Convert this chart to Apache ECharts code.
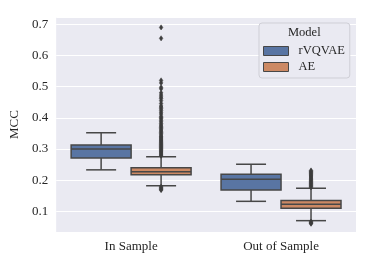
<!DOCTYPE html>
<html><head><meta charset="utf-8">
<script src="https://cdn.jsdelivr.net/npm/echarts@6/dist/echarts.min.js"></script>
<style>html,body{margin:0;padding:0;background:#fff}#c{width:374px;height:267px}</style>
</head><body><div id="c"></div>
<script>
const categories = ['In Sample', 'Out of Sample'];
const seriesNames = ['rVQVAE', 'AE'];
// [min whisker, Q1, median, Q3, max whisker] per category
const rvqvaeBoxes = [[0.233, 0.271, 0.300, 0.313, 0.352], [0.132, 0.168, 0.203, 0.219, 0.251]];
const aeBoxes = [[0.182, 0.217, 0.227, 0.240, 0.275], [0.070, 0.110, 0.123, 0.135, 0.174]];
const aeOutliersIn = [0.278,0.281,0.284,0.287,0.290,0.293,0.296,0.299,0.302,0.305,0.308,0.311,0.314,0.317,0.320,0.323,0.326,0.329,0.332,0.335,0.338,0.341,0.345,0.349,0.353,0.357,0.361,0.365,0.369,0.373,0.377,0.382,0.387,0.392,0.397,0.401,0.405,0.412,0.418,0.424,0.429,0.434,0.438,0.446,0.455,0.462,0.467,0.473,0.480,0.493,0.498,0.512,0.520,0.655,0.690,0.179,0.176,0.173,0.170,0.168];
const aeOutliersOut = [0.177,0.180,0.183,0.186,0.189,0.192,0.195,0.198,0.201,0.204,0.207,0.210,0.213,0.216,0.219,0.222,0.225,0.228,0.231,0.067,0.064,0.062,0.060];
const rvqvaeOutliers = [[], []];
const yTickLabels = ['0.1','0.2','0.3','0.4','0.5','0.6','0.7'];

const colors = ['#5975a3', '#cc8964'];
const edge = '#474747';
const FONT = 'Liberation Serif';
const offsets = [-0.2, 0.2];

function boxRender(sIdx) {
  return function (params, api) {
    const cat = api.value(0);
    const band = api.size([1, 0])[0];
    const cx = api.coord([cat, 0])[0] + offsets[sIdx] * band;
    const w = band * 0.4;
    const capW = w / 2;
    const y = i => api.coord([cat, api.value(i)])[1];
    const ymin = y(1), q1 = y(2), med = y(3), q3 = y(4), ymax = y(5);
    const ls = {stroke: edge, lineWidth: 1.5};
    return {
      type: 'group',
      children: [
        {type: 'line', shape: {x1: cx, y1: q3, x2: cx, y2: ymax}, style: ls},
        {type: 'line', shape: {x1: cx, y1: q1, x2: cx, y2: ymin}, style: ls},
        {type: 'line', shape: {x1: cx - capW / 2, y1: ymax, x2: cx + capW / 2, y2: ymax}, style: ls},
        {type: 'line', shape: {x1: cx - capW / 2, y1: ymin, x2: cx + capW / 2, y2: ymin}, style: ls},
        {type: 'rect', shape: {x: cx - w / 2, y: q3, width: w, height: q1 - q3}, style: {fill: colors[sIdx], stroke: edge, lineWidth: 1.5}},
        {type: 'line', shape: {x1: cx - w / 2, y1: med, x2: cx + w / 2, y2: med}, style: ls}
      ]
    };
  };
}
function outlierRender(sIdx) {
  return function (params, api) {
    const cat = api.value(0);
    const band = api.size([1, 0])[0];
    const cx = api.coord([cat, 0])[0] + offsets[sIdx] * band;
    const cy = api.coord([cat, api.value(1)])[1];
    const hw = 1.8, hh = 2.6;
    return {type: 'polygon', shape: {points: [[cx, cy - hh], [cx + hw, cy], [cx, cy + hh], [cx - hw, cy]]}, style: {fill: '#3d3d3d', stroke: '#3d3d3d', lineWidth: 0.5}};
  };
}
function boxData(arr) { return arr.map((b, i) => [i].concat(b)); }
function outData(lists) { const d = []; lists.forEach((l, i) => l.forEach(v => d.push([i, v]))); return d; }

const chart = echarts.init(document.getElementById('c'));
chart.setOption({
  animation: false,
  textStyle: {fontFamily: FONT},
  grid: {left: 53, right: 18, top: 17, bottom: 35, show: true, backgroundColor: '#eaeaf2', borderWidth: 0},
  xAxis: {
    type: 'category', data: categories,
    axisLine: {show: false}, axisTick: {show: false}, splitLine: {show: false},
    axisLabel: {fontFamily: FONT, fontSize: 13, color: '#262626', margin: 8}
  },
  yAxis: {
    type: 'value', min: 0.0336, max: 0.7234, splitNumber: 7,
    name: 'MCC', nameLocation: 'middle', nameGap: 24,
    nameTextStyle: {fontFamily: FONT, fontSize: 13, color: '#262626'},
    axisLine: {show: false}, axisTick: {show: false},
    splitLine: {show: true, lineStyle: {color: '#ffffff', width: 1}},
    axisLabel: {fontFamily: FONT, fontSize: 13, color: '#262626', margin: 8, showMinLabel: false, showMaxLabel: false,
      formatter: v => { const s = v.toFixed(1); return yTickLabels.indexOf(s) >= 0 ? s : ''; }}
  },
  legend: {
    orient: 'vertical', left: 259, top: 23,
    data: seriesNames.map((n, i) => ({name: n, icon: 'rect', itemStyle: {color: colors[i], borderColor: edge, borderWidth: 1}})),
    itemWidth: 25, itemHeight: 9, itemGap: 2,
    padding: [21, 5, 4, 4],
    backgroundColor: '#eaeaf2', borderColor: '#cfcfd6', borderWidth: 1, borderRadius: 3,
    selectedMode: false,
    textStyle: {fontFamily: FONT, fontSize: 12.5, color: '#262626', lineHeight: 14, padding: [0, 0, 0, 5]}
  },
  graphic: [{type: 'text', left: 288, top: 26, z: 100, style: {text: 'Model', font: '12.5px "Liberation Serif"', fill: '#262626'}}],
  series: [
    {name: seriesNames[0], type: 'custom', renderItem: boxRender(0), data: boxData(rvqvaeBoxes), itemStyle: {color: colors[0]}, encode: {x: 0, y: [1, 2, 3, 4, 5]}},
    {name: seriesNames[1], type: 'custom', renderItem: boxRender(1), data: boxData(aeBoxes), itemStyle: {color: colors[1]}, encode: {x: 0, y: [1, 2, 3, 4, 5]}},
    {name: 'rVQVAE outliers', type: 'custom', renderItem: outlierRender(0), data: outData(rvqvaeOutliers), encode: {x: 0, y: 1}},
    {name: 'AE outliers', type: 'custom', renderItem: outlierRender(1), data: outData([aeOutliersIn, aeOutliersOut]), encode: {x: 0, y: 1}}
  ]
});
</script></body></html>
